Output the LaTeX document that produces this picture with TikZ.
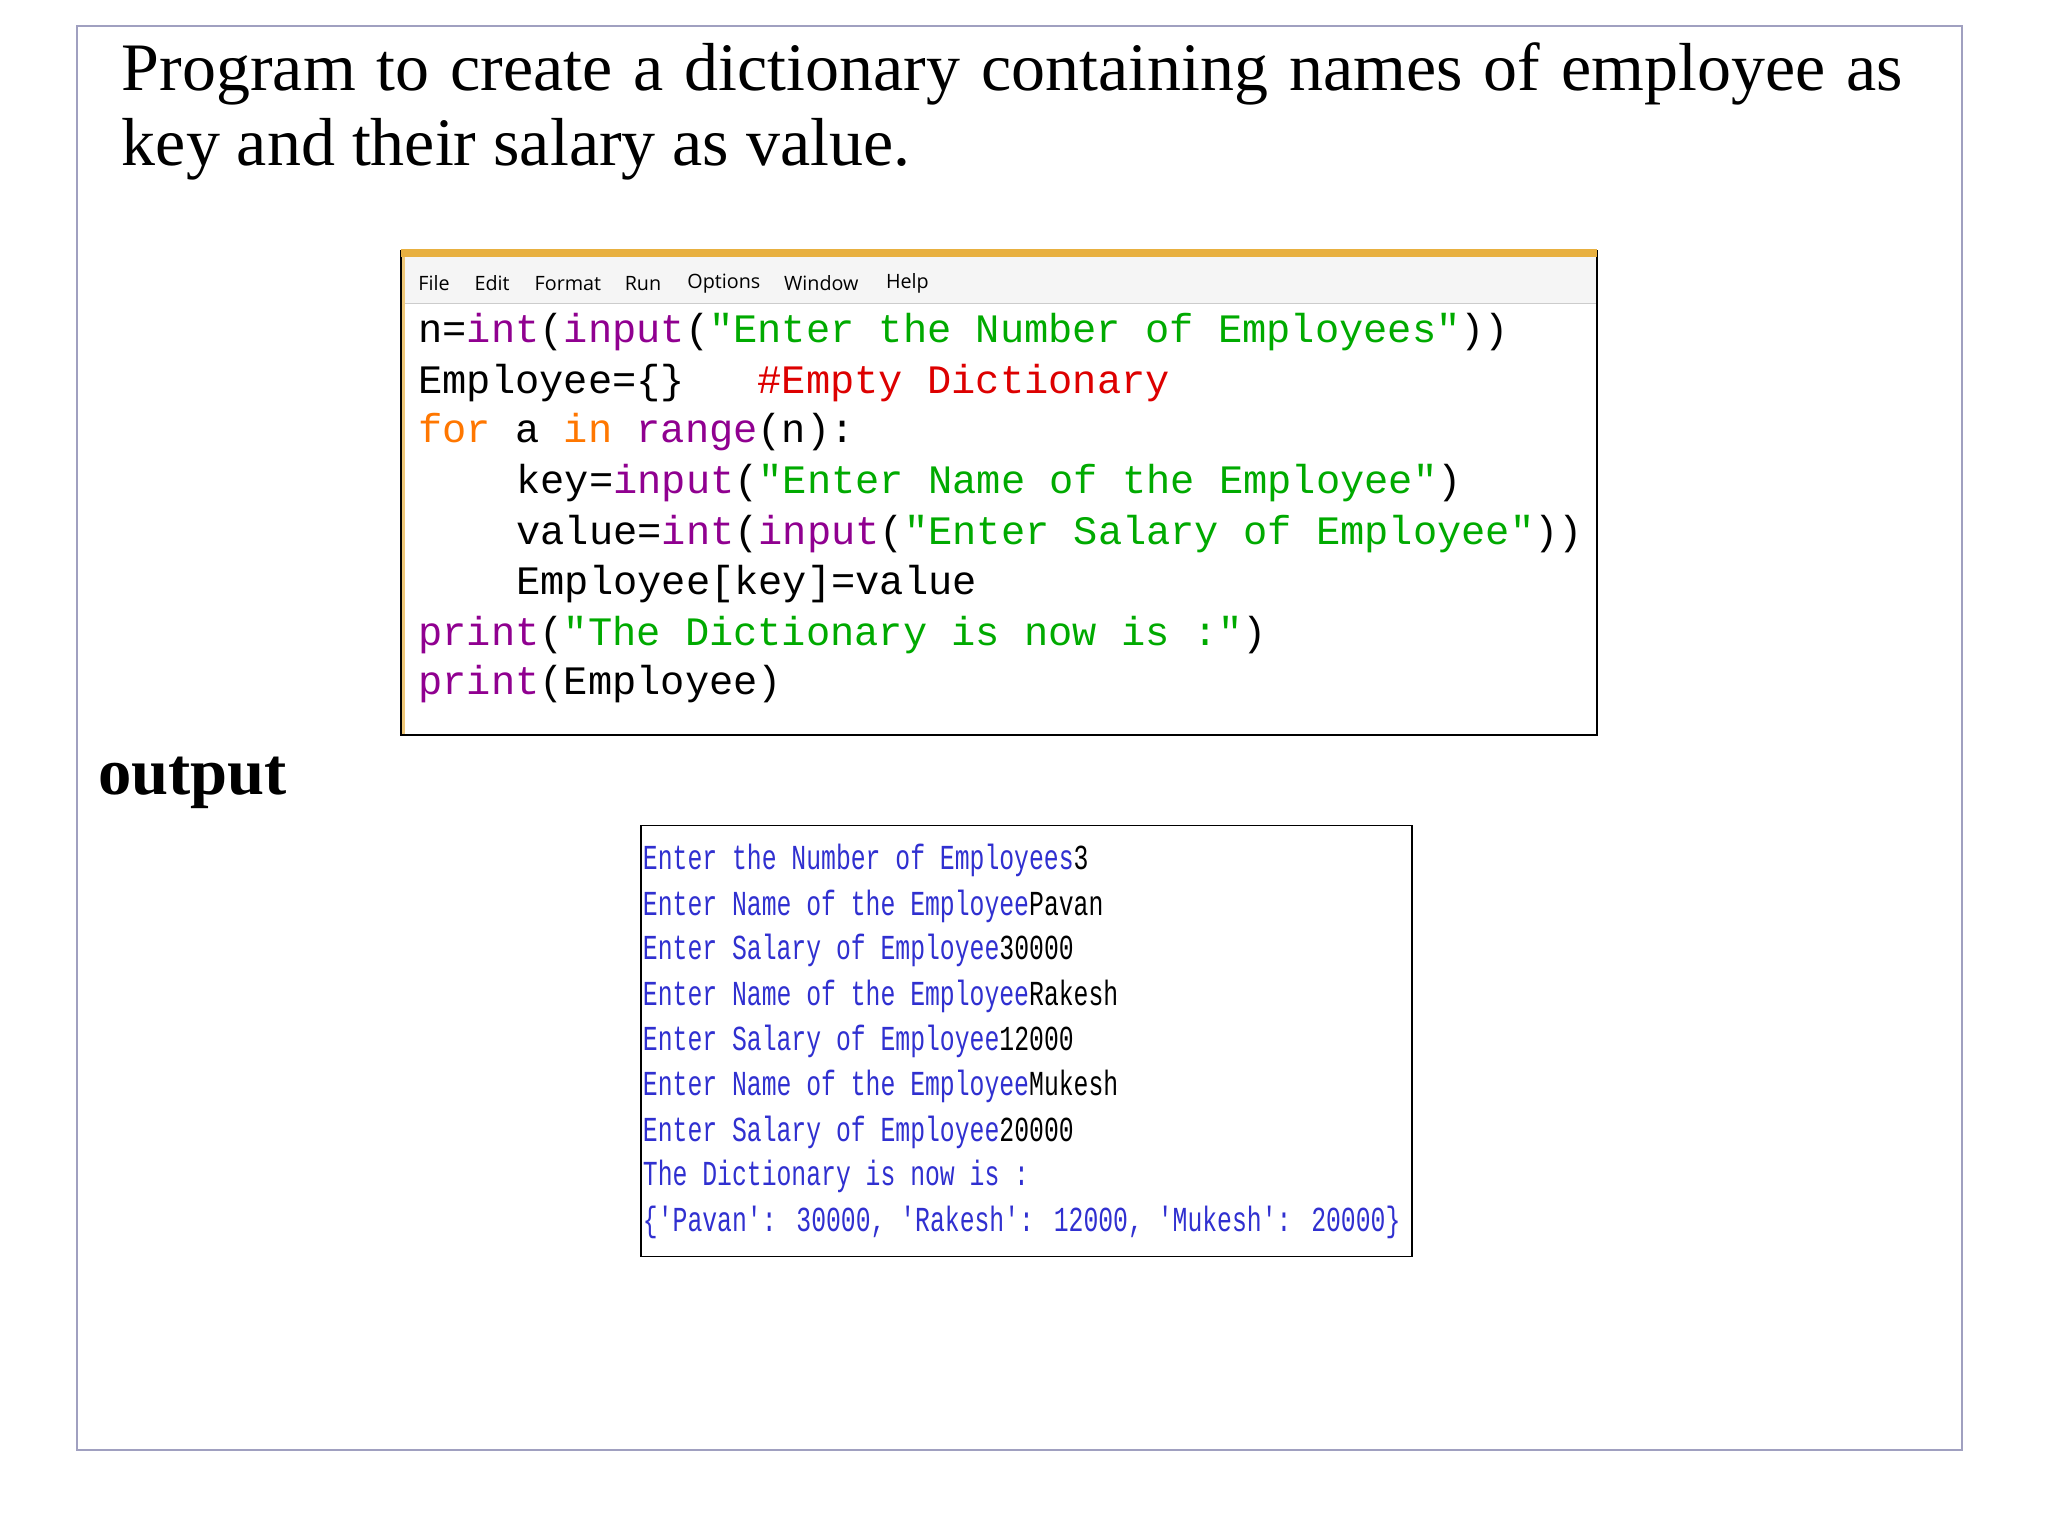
\documentclass[tikz,border=0pt]{standalone}
\usepackage{fontspec}
\setmainfont{Liberation Serif}
\newfontfamily\codefont{Liberation Mono}
\newfontfamily\menufont{Open Sans}
\newfontfamily\outfont{Liberation Mono}
\definecolor{kwo}{HTML}{FF7700}
\definecolor{bip}{HTML}{900090}
\definecolor{stg}{HTML}{00AA00}
\definecolor{cmr}{HTML}{DD0000}
\definecolor{ob}{HTML}{3030D0}
\definecolor{frame}{HTML}{A0A0C0}
\definecolor{gold}{HTML}{E8B040}
\newcommand{\kw}[1]{\textcolor{kwo}{#1}}
\newcommand{\bi}[1]{\textcolor{bip}{#1}}
\newcommand{\st}[1]{\textcolor{stg}{#1}}
\newcommand{\pr}[1]{\textcolor{ob}{#1}}
\newcommand{\qq}{\char"0027}
\begin{document}
\begin{tikzpicture}[x=0.02cm,y=-0.02cm,
  codeln/.style={anchor=west,inner sep=0pt,font=\codefont\fontsize{17.6pt}{20pt}\selectfont},
  outln/.style={anchor=west,inner sep=0pt,xscale=0.705,font=\outfont\fontsize{15.3pt}{17pt}\selectfont},
  menuit/.style={anchor=west,inner sep=0pt,font=\menufont\fontsize{8.6pt}{10pt}\selectfont}]
\useasboundingbox (0,0) rectangle (1568,1176);
\fill[white] (0,0) rectangle (1568,1176);
\draw[frame,line width=1pt] (59,20) rectangle (1502,1110);
\node[anchor=north west,inner sep=0pt,text width=776pt,align=justify,font=\fontsize{29.6pt}{33pt}\selectfont] (title) at (93,32)
  {Program to create a dictionary containing names of employee as\linebreak key and their salary as value.};
% code window
\fill[gray!8] (307,197) rectangle (1223,232);
\draw[black,line width=0.8pt] (307,192) rectangle (1223,563);
\draw[gold!70,line width=1.5pt] (309,197) -- (309,562);
\fill[gold] (307,191) rectangle (1223,197);
\draw[gray!40] (310,232) -- (1222,232);
\node[menuit] (m1) at (320,217) {File};
\node[menuit] (m2) at (363,217) {Edit};
\node[menuit] (m3) at (409,217) {Format};
\node[menuit] (m4) at (478,217) {Run};
\node[menuit] (m5) at (526,217) {Options};
\node[menuit] (m6) at (600,217) {Window};
\node[menuit] (m7) at (678,217) {Help};
\node[codeln] (c1) at (320,255) {\strut n=\bi{int}(\bi{input}(\st{"Enter the Number of Employees"}))};
\node[codeln] (c2) at (320,294) {\strut Employee=\{\}\ \ \ \textcolor{cmr}{\#Empty Dictionary}};
\node[codeln] (c3) at (320,332) {\strut \kw{for} a \kw{in} \bi{range}(n):};
\node[codeln] (c4) at (395,371) {\strut key=\bi{input}(\st{"Enter Name of the Employee"})};
\node[codeln] (c5) at (395,410) {\strut value=\bi{int}(\bi{input}(\st{"Enter Salary of Employee"}))};
\node[codeln] (c6) at (395,448) {\strut Employee[key]=value};
\node[codeln] (c7) at (320,487) {\strut \bi{print}(\st{"The Dictionary is now is :"})};
\node[codeln] (c8) at (320,525) {\strut \bi{print}(Employee)};
% output
\node[anchor=west,inner sep=0pt,font=\bfseries\fontsize{29pt}{32pt}\selectfont] (out) at (75,599) {output};
\draw[black,line width=0.8pt] (491,632) rectangle (1081,962);
\node[outln] (o1) at (492,660) {\strut\pr{Enter the Number of Employees}3};
\node[outln] (o2) at (492,695) {\strut\pr{Enter Name of the Employee}Pavan};
\node[outln] (o3) at (492,729) {\strut\pr{Enter Salary of Employee}30000};
\node[outln] (o4) at (492,764) {\strut\pr{Enter Name of the Employee}Rakesh};
\node[outln] (o5) at (492,798) {\strut\pr{Enter Salary of Employee}12000};
\node[outln] (o6) at (492,833) {\strut\pr{Enter Name of the Employee}Mukesh};
\node[outln] (o7) at (492,868) {\strut\pr{Enter Salary of Employee}20000};
\node[outln] (o8) at (492,902) {\strut\pr{The Dictionary is now is :}};
\node[outln] (o9) at (492,937) {\strut\pr{\{\qq Pavan\qq: 30000, \qq Rakesh\qq: 12000, \qq Mukesh\qq: 20000\}}};
\end{tikzpicture}
\end{document}
